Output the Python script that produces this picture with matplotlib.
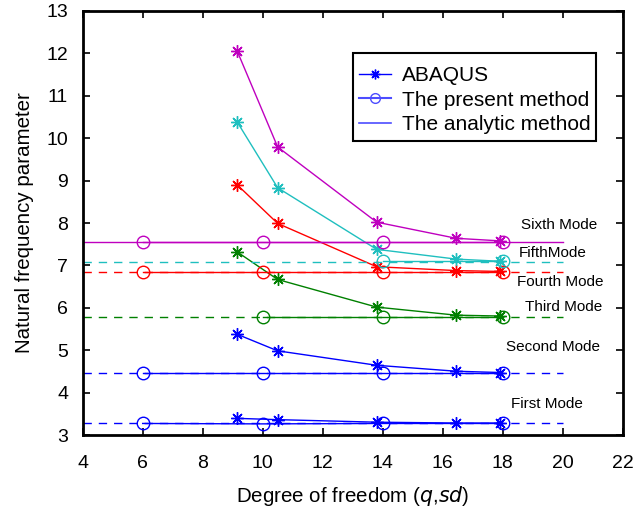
import matplotlib.pyplot as plt
import numpy as np

plt.rcParams['font.family'] = ['Liberation Sans', 'DejaVu Sans']

# Degrees of freedom used by each approach
abaqus_dof = [9.15, 10.5, 13.8, 16.45, 17.9]
present_dof = [6, 10, 14, 18]
analytic_range = [4, 20]

mode_names = ['First Mode', 'Second Mode', 'Third Mode', 'Fourth Mode', 'FifthMode', 'Sixth Mode']
mode_colors = ['#0000ff', '#0000ff', '#008000', '#ff0000', '#1fbfbf', '#bf00bf']

# ABAQUS results, one row per mode
abaqus_vals = [
    [3.40, 3.37, 3.31, 3.29, 3.29],
    [5.38, 4.99, 4.65, 4.51, 4.48],
    [7.32, 6.67, 6.02, 5.83, 5.81],
    [8.90, 7.99, 6.97, 6.88, 6.86],
    [10.38, 8.83, 7.38, 7.15, 7.10],
    [12.05, 9.79, 8.02, 7.64, 7.58],
]

# present method: values at the converged dof (None = not computed)
present_vals = [
    [3.28, 3.27, 3.28, 3.28],
    [4.46, 4.46, 4.46, 4.46],
    [None, 5.78, 5.78, 5.78],
    [6.85, 6.85, 6.85, 6.85],
    [None, None, 7.10, 7.10],
    [7.55, 7.55, 7.55, 7.55],
]

analytic_vals = [3.28, 4.46, 5.78, 6.85, 7.08, 7.55]
analytic_styles = ['--', '--', '--', '--', '--', '-']

# label positions for the mode names
label_x = [18.27, 18.1, 18.74, 18.47, 18.54, 18.6]
label_y = [3.75, 5.08, 6.02, 6.6, 7.29, 7.95]

asterisk = (8, 2, 0)

fig = plt.figure(figsize=(6.36, 5.08), dpi=100)
ax = fig.add_axes([0.130, 0.143, 0.849, 0.836])

for i in range(len(mode_names)):
    c = mode_colors[i]
    ax.plot(analytic_range, [analytic_vals[i]] * 2, analytic_styles[i], color=c, lw=1.0,
            dashes=(6, 5) if analytic_styles[i] == '--' else (None, None))
    px = [d for d, v in zip(present_dof, present_vals[i]) if v is not None]
    py = [v for v in present_vals[i] if v is not None]
    ax.plot(px, py, '-', color=c, lw=1.0, marker='o', ms=9, mfc='none', mew=1.0)
    ax.plot(abaqus_dof, abaqus_vals[i], '-', color=c, lw=1.0, marker=asterisk, ms=9, mew=1.0)
    ax.text(label_x[i], label_y[i], mode_names[i], fontsize=11, ha='left', va='center')

# legend handles drawn in blue
h1, = ax.plot([], [], '-', color='#0000ff', lw=1.0, marker=asterisk, ms=7, mew=1.0)
h2, = ax.plot([], [], '-', color='#4d4dff', lw=1.5, marker='o', ms=7, mfc='none', mew=1.0)
h3, = ax.plot([], [], '-', color='#4d4dff', lw=1.2)
leg = ax.legend([h1, h2, h3], ['ABAQUS', 'The present method', 'The analytic method'],
                loc='upper left', bbox_to_anchor=(0.5, 0.9), fontsize=15,
                title=' ', title_fontsize=1,
                fancybox=False, framealpha=1, edgecolor='black', borderpad=0.3,
                handlelength=1.55, handletextpad=0.5, labelspacing=0.27, borderaxespad=0)
leg.get_frame().set_linewidth(1.5)

ax.set_xlim(4, 22)
ax.set_ylim(3, 13)
ax.set_xticks(np.arange(4, 23, 2))
ax.set_yticks(np.arange(3, 14, 1))
ax.tick_params(direction='in', top=True, right=True, length=5, width=1.2, labelsize=14)
ax.tick_params(axis='x', pad=14)
ax.tick_params(axis='y', pad=10.5)
for s in ax.spines.values():
    s.set_linewidth(2)

ax.set_xlabel('Degree of freedom ($q$,$sd$)', fontsize=14.8, labelpad=9)
ax.set_ylabel('Natural frequency parameter', fontsize=14.8, labelpad=9)

plt.savefig('out.png', dpi=100)
plt.close()
